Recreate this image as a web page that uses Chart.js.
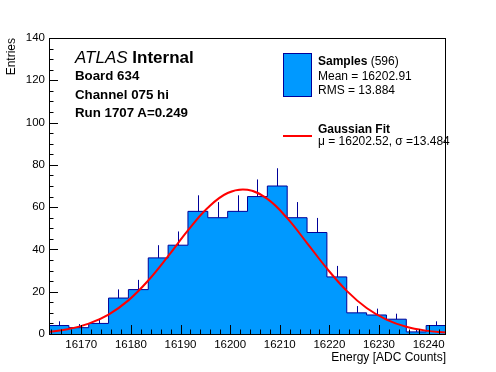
<!DOCTYPE html>
<html>
<head>
<meta charset="utf-8">
<script src="https://cdn.jsdelivr.net/npm/chart.js@4.4.1/dist/chart.umd.min.js"></script>
<style>
  body { margin: 0; background: #fff; }
  #wrap { position: relative; width: 496px; height: 372px; font-family: "Liberation Sans", Arial, sans-serif; color: #000; }
  #wrap div { position: absolute; white-space: nowrap; line-height: 1; }
  .b { font-weight: bold; }
</style>
</head>
<body>
<div id="wrap">
  <canvas id="histo" width="496" height="372"></canvas>

  <div style="left:75px;top:48.6px;font-size:17px"><i>ATLAS</i> <span class="b">Internal</span></div>
  <div class="b" style="left:75px;top:69px;font-size:13.3px">Board 634</div>
  <div class="b" style="left:75px;top:87.5px;font-size:13.3px">Channel 075 hi</div>
  <div class="b" style="left:75px;top:106px;font-size:13.3px">Run 1707 A=0.249</div>

  <div style="left:283px;top:53px;width:27px;height:42px;background:#0099ff;border:1px solid #000099"></div>
  <div style="left:318px;top:54.8px;font-size:12px"><span class="b">Samples</span> (596)</div>
  <div style="left:318px;top:69.8px;font-size:12px">Mean = 16202.91</div>
  <div style="left:318px;top:83.5px;font-size:12px">RMS = 13.884</div>
  <div style="left:283px;top:135px;width:29px;height:2px;background:#ff0000"></div>
  <div class="b" style="left:318px;top:122.8px;font-size:12px">Gaussian Fit</div>
  <div style="left:318px;top:134.8px;font-size:12px">&mu; = 16202.52, &sigma; =13.484</div>

  <div style="left:0;top:0;width:60px;text-align:right;font-size:12px;transform-origin:0 0;transform:translate(5px,98px) rotate(-90deg)">Entries</div>
  <div style="right:50px;top:350.5px;font-size:12px">Energy [ADC Counts]</div>
</div>
<script>
// histogram bins (ADC counts) and contents
const binEdges = [16163.5, 16167.5, 16171.5, 16175.5, 16179.5, 16183.5, 16187.5, 16191.5, 16195.5, 16199.5, 16203.5,
                  16207.5, 16211.5, 16215.5, 16219.5, 16223.5, 16227.5, 16231.5, 16235.5, 16239.5, 16243.5];
const entries = [4, 3, 5, 17, 21, 36, 42, 58, 55, 58, 65, 70, 55, 48, 27, 10, 9, 7, 1, 4];
const errors = [2.0, 1.7, 2.2, 4.1, 4.6, 6.0, 6.5, 7.6, 7.4, 7.6, 8.1, 8.4, 7.4, 6.9, 5.2, 3.2, 3.0, 2.6, 1.0, 2.0];

// gaussian fit curve
const fitX = [16163.5, 16167.5, 16171.5, 16175.5, 16179.5, 16183.5, 16187.5, 16191.5, 16195.5, 16199.5, 16203.5,
              16207.5, 16211.5, 16215.5, 16219.5, 16223.5, 16227.5, 16231.5, 16235.5, 16239.5, 16243.5];
const fitY = [1.0, 2.4, 4.9, 9.2, 15.9, 25.3, 36.8, 49.0, 59.7, 66.7, 68.2, 63.9, 54.8, 43.0, 31.0, 20.4, 12.3, 6.8, 3.4, 1.6, 0.7];

const xTicks = [16170, 16180, 16190, 16200, 16210, 16220, 16230, 16240];
const yTicks = [0, 20, 40, 60, 80, 100, 120, 140];

const axisFont = { family: 'Liberation Sans', size: 11.5 };

// error bars (upper half only, like ROOT draws them over the fill)
const errorBars = {
    id: 'errorBars',
    afterDatasetDraw(chart, args) {
        if (args.index !== 0) return;
        const ctx = chart.ctx, x = chart.scales.x, y = chart.scales.y;
        ctx.save();
        ctx.strokeStyle = '#000099';
        ctx.lineWidth = 1;
        ctx.beginPath();
        entries.forEach(function (n, i) {
            const px = Math.round(x.getPixelForValue((binEdges[i] + binEdges[i + 1]) / 2)) + 0.5;
            ctx.moveTo(px, y.getPixelForValue(n));
            ctx.lineTo(px, y.getPixelForValue(n + errors[i]));
        });
        ctx.stroke();
        ctx.restore();
    }
};

// frame + inside ticks
const rootAxes = {
    id: 'rootAxes',
    afterDatasetsDraw(chart) {
        const ctx = chart.ctx, a = chart.chartArea, x = chart.scales.x, y = chart.scales.y;
        ctx.save();
        ctx.strokeStyle = '#000';
        ctx.lineWidth = 1;
        ctx.strokeRect(a.left + 0.5, a.top + 0.5, a.right - a.left - 1, a.bottom - a.top);
        ctx.beginPath();
        for (let v = 16164; v <= 16242; v += 2) {
            const px = Math.round(x.getPixelForValue(v)) + 0.5;
            const len = v % 10 === 0 ? 9 : 4.5;
            ctx.moveTo(px, a.bottom);
            ctx.lineTo(px, a.bottom - len);
        }
        for (let v = 0; v <= 140; v += 5) {
            const py = Math.round(y.getPixelForValue(v)) + 0.5;
            const len = v % 20 === 0 ? 9 : 4.5;
            ctx.moveTo(a.left, py);
            ctx.lineTo(a.left + len, py);
        }
        ctx.stroke();
        ctx.restore();
    }
};

const histPoints = entries.map(function (n, i) { return { x: binEdges[i], y: n }; });
histPoints.push({ x: binEdges[binEdges.length - 1], y: entries[entries.length - 1] });

const ctx = document.getElementById('histo').getContext('2d');
const histChart = new Chart(ctx, {
    type: 'line',
    data: {
        datasets: [{
            label: 'Samples',
            data: histPoints,
            stepped: 'before',
            fill: 'origin',
            backgroundColor: '#0099ff',
            borderColor: '#000099',
            borderWidth: 1,
            pointRadius: 0,
            order: 2
        }, {
            label: 'Gaussian Fit',
            data: fitX.map(function (v, i) { return { x: v, y: fitY[i] }; }),
            borderColor: '#ff0000',
            borderWidth: 2,
            pointRadius: 0,
            tension: 0.4,
            fill: false,
            order: 1
        }]
    },
    options: {
        responsive: false,
        animation: false,
        devicePixelRatio: 1,
        layout: { padding: { top: 38, right: 50, left: 0, bottom: 0 } },
        plugins: { legend: { display: false }, tooltip: { enabled: false } },
        scales: {
            x: {
                type: 'linear',
                min: binEdges[0],
                max: binEdges[binEdges.length - 1],
                afterBuildTicks: function (s) { s.ticks = xTicks.map(function (v) { return { value: v }; }); },
                afterFit: function (s) { s.height = 38; },
                grid: { display: false, drawTicks: false },
                border: { display: false },
                ticks: { font: axisFont, color: '#000', padding: 4, maxRotation: 0, autoSkip: false,
                         callback: function (v) { return String(v); } }
            },
            y: {
                type: 'linear',
                min: 0,
                max: 140,
                afterBuildTicks: function (s) { s.ticks = yTicks.map(function (v) { return { value: v }; }); },
                afterFit: function (s) { s.width = 49; },
                grid: { display: false, drawTicks: false },
                border: { display: false },
                ticks: { font: axisFont, color: '#000', padding: 4 }
            }
        }
    },
    plugins: [errorBars, rootAxes]
});
</script>
</body>
</html>
